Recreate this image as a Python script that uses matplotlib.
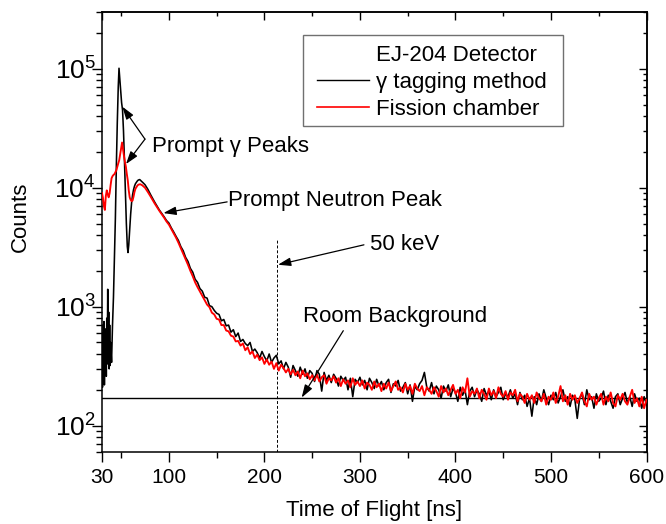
import numpy as np
import matplotlib
matplotlib.use("Agg")
import matplotlib.pyplot as plt
from matplotlib.ticker import FixedLocator, LogLocator, NullFormatter, FixedFormatter
from matplotlib.lines import Line2D
from matplotlib.patches import Rectangle

plt.rcParams['font.family'] = ['Liberation Sans', 'DejaVu Sans']
plt.rcParams['mathtext.fontset'] = 'custom'
plt.rcParams['mathtext.rm'] = 'Liberation Sans'
plt.rcParams['mathtext.it'] = 'Liberation Sans:italic'
plt.rcParams['mathtext.bf'] = 'Liberation Sans:bold'

# ---------------- data ----------------
# gamma tagging method (black), early part with irregular bins
gam_early_x = [30, 30.5, 31, 31.5, 32, 32.5, 33, 33.5, 34, 34.5,
               35, 35.5, 36, 36.5, 37, 37.5, 38, 38.5, 39, 40,
               41, 42, 43, 44, 45, 46, 47, 47.8, 48.5, 49.5,
               50.5, 51.5, 52.5, 53.5, 54.5, 55.5, 56.5, 57.2, 58, 59,
               60, 61, 62, 63, 64, 65, 66, 67, 68, 69.5,
               71, 73, 75, 78, 81, 85, 90, 95, 97.5]
gam_early_y = [700, 210, 600, 250, 750, 220, 500, 300, 650, 260,
               800, 330, 1400, 400, 900, 300, 700, 320, 500, 340,
               700, 1200, 2500, 5500, 15000, 35000, 70000, 101000, 85000, 65000,
               52000, 45000, 30000, 17000, 9000, 5000, 3200, 2850, 3300, 4500,
               6000, 7500, 8700, 9600, 10300, 10800, 11100, 11400, 11600, 11700,
               11400, 11000, 10600, 9700, 8700, 7600, 6500, 5700, 5300]

# fission chamber (red), early part
fis_early_x = [30, 31, 32, 33, 34, 35, 36, 37, 38, 39,
               40, 41, 42, 43, 44, 45, 46, 47, 48, 49,
               50, 51, 52, 53, 54, 55, 56, 57, 58, 59,
               60, 61, 62, 63, 64, 65, 66, 67, 68, 70,
               72, 75, 78, 81, 85, 90, 95, 97.5]
fis_early_y = [9000, 8200, 7000, 6500, 8500, 9500, 8800, 8300, 9000, 10500,
               12000, 12500, 12800, 13000, 13500, 14000, 15000, 16000, 17000, 19000,
               21500, 24000, 21000, 18500, 16500, 15000, 13000, 11500, 9500, 8300,
               7900, 7700, 7800, 8400, 9200, 9800, 10100, 10400, 10600, 10700,
               10500, 10000, 9200, 8400, 7400, 6400, 5600, 5200]

# tail, 2.5 ns bins from 100 ns to 600 ns
tail_start, tail_step = 100.0, 2.5
gam_tail_y = [5050, 4600, 4250, 3900, 3600, 3200, 2950, 2600, 2400, 2100,
              1950, 1700, 1600, 1420, 1350, 1200, 1180, 1020, 1000, 930,
              880, 860, 760, 780, 690, 700, 610, 640, 560, 600,
              510, 530, 490, 470, 500, 420, 440, 410, 370, 420,
              380, 350, 400, 340, 370, 390, 330, 350, 300, 340,
              310, 255, 320, 290, 260, 310, 270, 300, 250, 290,
              275, 235, 290, 270, 195, 280, 240, 265, 230, 270,
              250, 215, 260, 240, 255, 200, 250, 175, 245, 230,
              255, 220, 240, 200, 250, 230, 205, 245, 215, 235,
              200, 230, 245, 190, 225, 215, 240, 195, 210, 230,
              185, 220, 160, 215, 200, 225, 240, 280, 210, 195,
              230, 185, 215, 200, 170, 215, 195, 220, 175, 205,
              190, 160, 210, 180, 200, 150, 195, 210, 175, 200,
              185, 160, 205, 180, 195, 165, 200, 175, 190, 210,
              165, 185, 175, 200, 170, 185, 150, 190, 165, 180,
              145, 170, 120, 175, 150, 185, 160, 200, 170, 150,
              180, 165, 190, 155, 175, 200, 160, 175, 145, 180,
              165, 115, 170, 185, 150, 200, 165, 175, 140, 185,
              160, 170, 195, 150, 180, 160, 140, 175, 185, 150,
              170, 190, 155, 175, 145, 185, 160, 170, 140, 175,
              150]
fis_tail_y = [4900, 4500, 4150, 3800, 3450, 3100, 2800, 2500, 2250, 2000,
              1800, 1600, 1460, 1340, 1230, 1130, 1040, 990, 890, 860,
              790, 780, 700, 700, 630, 620, 570, 560, 510, 515,
              470, 490, 430, 455, 400, 420, 370, 395, 355, 375,
              330, 360, 325, 345, 300, 335, 290, 325, 305, 280,
              300, 270, 295, 265, 285, 250, 290, 260, 275, 245,
              265, 240, 270, 235, 255, 265, 225, 250, 240, 260,
              230, 250, 215, 245, 225, 240, 210, 250, 220, 235,
              215, 240, 205, 230, 220, 200, 235, 210, 225, 195,
              225, 205, 230, 195, 215, 235, 200, 210, 190, 225,
              200, 215, 185, 225, 205, 195, 215, 180, 210, 200,
              185, 210, 195, 175, 215, 190, 205, 180, 200, 220,
              185, 200, 170, 210, 190, 250, 175, 195, 185, 205,
              170, 200, 185, 165, 205, 180, 195, 170, 210, 185,
              175, 195, 165, 190, 180, 200, 160, 185, 175, 155,
              185, 165, 180, 155, 190, 170, 160, 185, 150, 175,
              165, 190, 155, 175, 215, 160, 180, 150, 185, 165,
              180, 155, 170, 190, 160, 145, 185, 165, 175, 150,
              170, 185, 150, 175, 160, 190, 155, 145, 180, 165,
              185, 160, 150, 175, 200, 155, 170, 145, 175, 140,
              165]

room_background = 172
kev50_tof = 213
kev50_top = 3600

x_major = [30, 100, 200, 300, 400, 500, 600]
x_minor = [50, 150, 250, 350, 450, 550]
y_major = [1e2, 1e3, 1e4, 1e5]
y_major_labels = [r'$\mathregular{10^{2}}$', r'$\mathregular{10^{3}}$',
                  r'$\mathregular{10^{4}}$', r'$\mathregular{10^{5}}$']

# ---------------- assemble ----------------
gam_tail_x = tail_start + tail_step * np.arange(len(gam_tail_y))
fis_tail_x = tail_start + tail_step * np.arange(len(fis_tail_y))
gam_x = np.concatenate([gam_early_x, gam_tail_x])
gam_y = np.concatenate([gam_early_y, gam_tail_y])
fis_x = np.concatenate([fis_early_x, fis_tail_x])
fis_y = np.concatenate([fis_early_y, fis_tail_y])

# ---------------- figure ----------------
W, H = 666, 524
fig = plt.figure(figsize=(W / 100, H / 100), dpi=100)
L, R, T, B = 102, 646.5, 12, 452
ax = fig.add_axes([L / W, 1 - B / H, (R - L) / W, (B - T) / H])

ax.plot(gam_x, gam_y, color='black', lw=1.15, zorder=3)
ax.plot(fis_x, fis_y, color='#ff0000', lw=1.35, zorder=4)
ax.axhline(room_background, color='black', lw=1.0, zorder=2)
ax.plot([kev50_tof, kev50_tof], [1, kev50_top], color='black', lw=0.7,
        ls=(0, (3, 2)), zorder=2)

ax.set_yscale('log')
ax.set_xlim(30, 600)
ax.set_ylim(60, 3e5)

ax.xaxis.set_major_locator(FixedLocator(x_major))
ax.xaxis.set_minor_locator(FixedLocator(x_minor))
ax.set_xticklabels([str(v) for v in x_major])
ax.yaxis.set_major_locator(FixedLocator(y_major))
ax.yaxis.set_major_formatter(FixedFormatter(y_major_labels))
ax.yaxis.set_minor_locator(LogLocator(base=10, subs=np.arange(2, 10)))
ax.yaxis.set_minor_formatter(NullFormatter())

ax.tick_params(axis='both', which='major', direction='out', length=7.5, width=1.0,
               labelsize=15)
ax.tick_params(axis='both', which='minor', direction='out', length=4.5, width=1.0)
ax.tick_params(axis='x', which='major', pad=4)
ax.tick_params(axis='y', which='major', pad=-3, labelsize=19)
for s in ax.spines.values():
    s.set_linewidth(1.1)

# mirrored inward ticks on top / right
sx = ax.secondary_xaxis('top')
sx.xaxis.set_major_locator(FixedLocator(x_major))
sx.xaxis.set_minor_locator(FixedLocator(x_minor))
sx.tick_params(axis='x', which='major', direction='in', length=5.5, width=1.0, labeltop=False)
sx.tick_params(axis='x', which='minor', direction='in', length=3, width=1.0)
sx.spines['top'].set_linewidth(1.1)
sy = ax.secondary_yaxis('right')
sy.yaxis.set_major_locator(FixedLocator(y_major))
sy.yaxis.set_minor_locator(LogLocator(base=10, subs=np.arange(2, 10)))
sy.yaxis.set_minor_formatter(NullFormatter())
sy.tick_params(axis='y', which='major', direction='in', length=6, width=1.0, labelright=False)
sy.tick_params(axis='y', which='minor', direction='in', length=3, width=1.0)
sy.spines['right'].set_linewidth(1.1)

ax.set_xlabel('Time of Flight [ns]', fontsize=16)
ax.set_ylabel('Counts', fontsize=16)
ax.xaxis.set_label_coords(0.5, -0.11)
ax.yaxis.set_label_coords(-0.131, 0.534)

# legend (frame drawn as a rectangle in axes coords)
ax.add_patch(Rectangle((0.3686, 0.741), 0.478, 0.2067, transform=ax.transAxes,
                       fill=True, facecolor='white', edgecolor='#707070', lw=1.0, zorder=6))
handles = [Line2D([], [], color='none'),
           Line2D([], [], color='black', lw=1.0),
           Line2D([], [], color='#ff0000', lw=1.2)]
labels = ['EJ-204 Detector', u'\u03b3 tagging method', 'Fission chamber']
leg = ax.legend(handles, labels, loc='upper left', bbox_to_anchor=(0.395, 0.926),
                frameon=False, fontsize=16, borderpad=0, borderaxespad=0,
                handlelength=2.35, handletextpad=0.3, labelspacing=0.28)
leg.set_zorder(7)

arrow = dict(arrowstyle='-|>,head_length=0.55,head_width=0.18', color='black',
             lw=0.9, shrinkA=0, shrinkB=0, mutation_scale=14)
fs = 16
ax.text(82.3, 22300, u'Prompt \u03b3 Peaks', fontsize=fs, ha='left', va='center', zorder=8)
ax.annotate('', xy=(51.3, 48000), xytext=(75, 25600), arrowprops=arrow, zorder=8)
ax.annotate('', xy=(55.1, 15800), xytext=(75, 25600), arrowprops=arrow, zorder=8)

ax.text(161.9, 7780, 'Prompt Neutron Peak', fontsize=fs, ha='left', va='center', zorder=8)
ax.annotate('', xy=(94.2, 6120), xytext=(161.0, 7600), arrowprops=arrow, zorder=8)

ax.text(310.9, 3350, '50 keV', fontsize=fs, ha='left', va='center', zorder=8)
ax.annotate('', xy=(214.2, 2250), xytext=(304.2, 3310), arrowprops=arrow, zorder=8)

ax.text(240.7, 824, 'Room Background', fontsize=fs, ha='left', va='center', zorder=8)
ax.annotate('', xy=(239, room_background), xytext=(282.6, 628), arrowprops=arrow, zorder=8)

fig.savefig('out.png', dpi=100)
